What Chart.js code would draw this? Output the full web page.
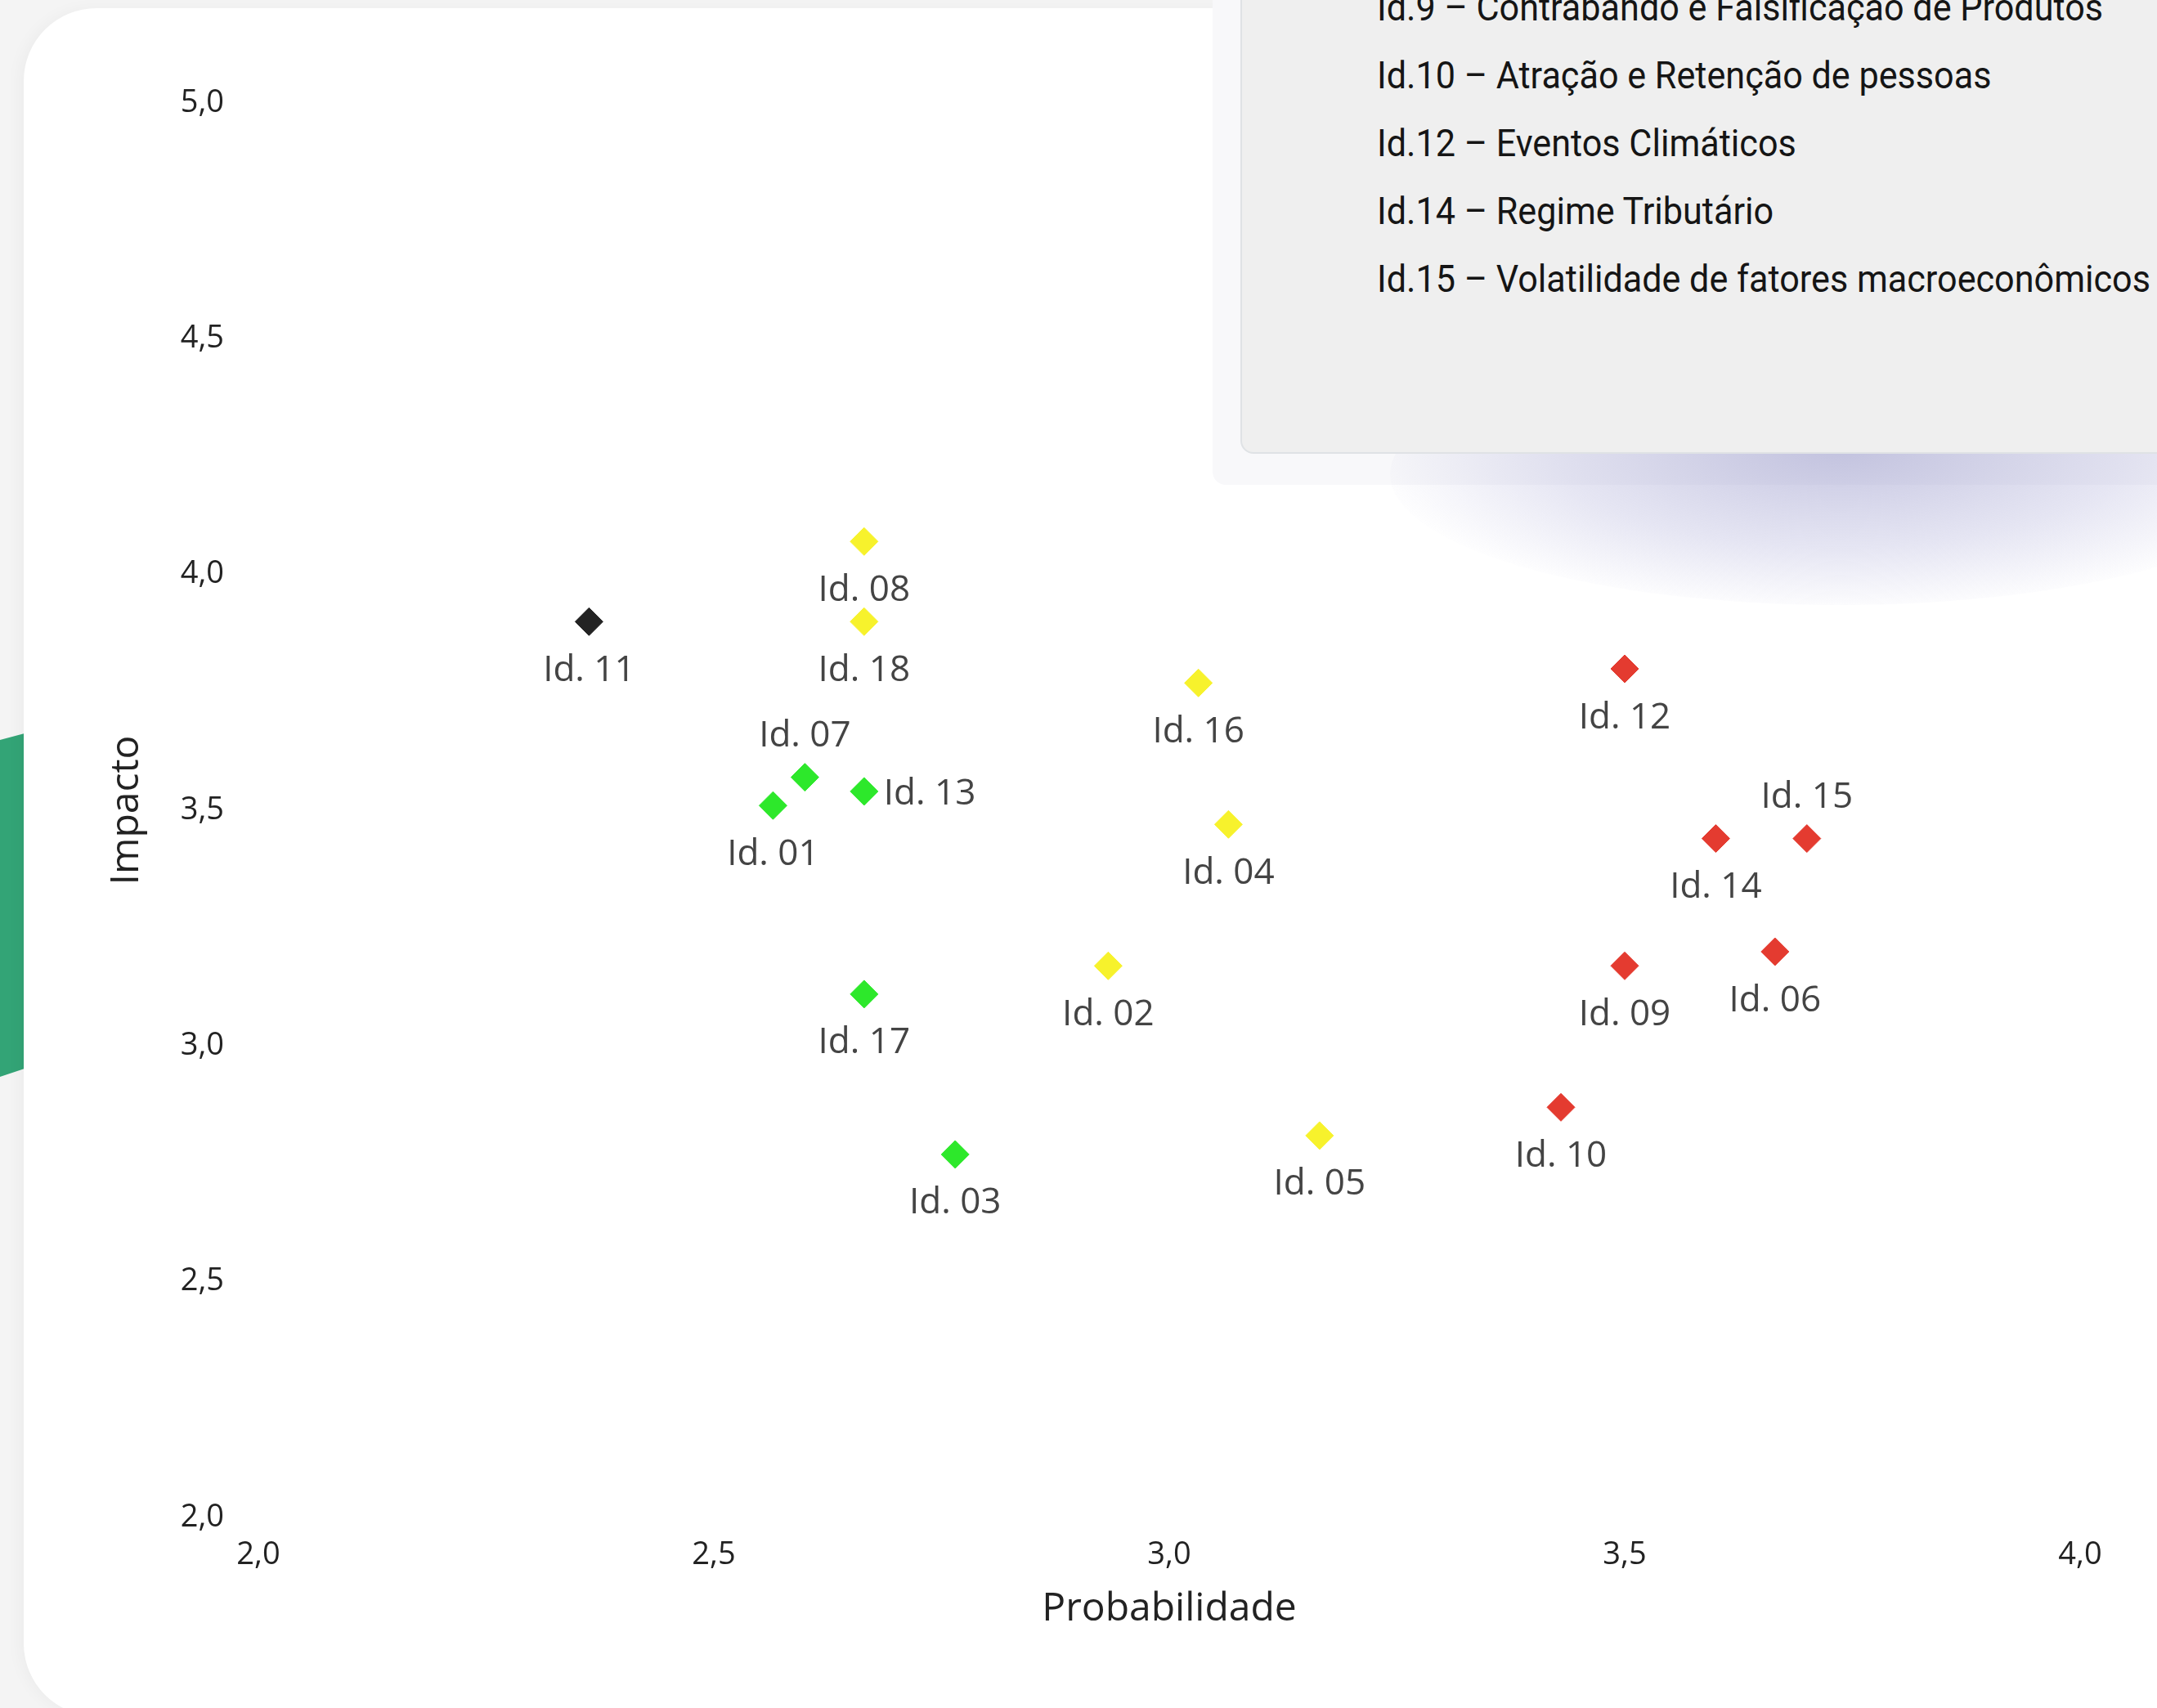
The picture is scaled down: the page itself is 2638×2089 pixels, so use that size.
<!DOCTYPE html>
<html lang="pt-BR">
<head>
<meta charset="utf-8">
<title>Matriz de riscos</title>
<script src="https://cdn.jsdelivr.net/npm/chart.js@4.4.1/dist/chart.umd.min.js"></script>
<style>
  html, body {
    margin: 0;
    padding: 0;
    width: 2638px;
    height: 2089px;
    overflow: hidden;
    background: #f4f4f4;
  }
  #faixa {
    position: absolute;
    left: 0;
    top: 897px;
    width: 30px;
    height: 420px;
    background: #33a476;
    clip-path: polygon(0 8px, 30px 0, 30px 410px, 0 420px);
  }
  #cartao {
    position: absolute;
    left: 29px;
    top: 10px;
    width: 2700px;
    height: 2089px;
    background: #ffffff;
    border-radius: 89px;
    box-shadow: -6px 0 18px rgba(0, 0, 0, 0.03);
  }
  #sombra {
    position: absolute;
    left: 1700px;
    top: 420px;
    width: 1100px;
    height: 320px;
    border-radius: 50%;
    background: radial-gradient(ellipse at 50% 40%, rgba(150, 150, 200, 0.55) 0%, rgba(170, 170, 215, 0.3) 45%, rgba(200, 200, 230, 0) 75%);
  }
  #fundoLegenda {
    position: absolute;
    left: 1483px;
    top: -20px;
    width: 1300px;
    height: 613px;
    background: #f8f8fa;
    border-bottom-left-radius: 16px;
  }
  #legenda {
    position: absolute;
    left: 1517px;
    top: -300px;
    width: 1300px;
    height: 855px;
    background: #efefef;
    border: 2px solid #dfe2e5;
    border-bottom-left-radius: 16px;
    box-sizing: border-box;
  }
  .linha {
    position: absolute;
    left: 165px;
    height: 83px;
    line-height: 83px;
    font-family: Roboto, sans-serif;
    font-size: 47px;
    color: #151515;
    white-space: nowrap;
    transform-origin: 0 50%;
  }
  #grafico {
    position: absolute;
    left: 0;
    top: 0;
  }
</style>
</head>
<body>
<div id="faixa"></div>
<div id="cartao"></div>
<canvas id="grafico" width="2638" height="2089"></canvas>
<div id="fundoLegenda"></div>
<div id="sombra"></div>
<div id="legenda"></div>

<script>
// riscos: identificador, probabilidade (x), impacto (y) e faixa de cor
const ids = [
    "Id. 01", "Id. 02", "Id. 03", "Id. 04", "Id. 05", "Id. 06",
    "Id. 07", "Id. 08", "Id. 09", "Id. 10", "Id. 11", "Id. 12",
    "Id. 13", "Id. 14", "Id. 15", "Id. 16", "Id. 17", "Id. 18"
];

const probabilidade = [
    2.565, 2.933, 2.765, 3.065, 3.165, 3.665,
    2.60, 2.665, 3.50, 3.43, 2.363, 3.50,
    2.665, 3.60, 3.70, 3.032, 2.665, 2.665
];

const impacto = [
    3.51, 3.17, 2.77, 3.47, 2.81, 3.20,
    3.57, 4.07, 3.17, 2.87, 3.90, 3.80,
    3.54, 3.44, 3.44, 3.77, 3.11, 3.90
];

const faixa = [
    "verde", "amarelo", "verde", "amarelo", "amarelo", "vermelho",
    "verde", "amarelo", "vermelho", "vermelho", "preto", "vermelho",
    "verde", "vermelho", "vermelho", "amarelo", "verde", "amarelo"
];

const ticksProbabilidade = [2.0, 2.5, 3.0, 3.5, 4.0];
const ticksImpacto = [2.0, 2.5, 3.0, 3.5, 4.0, 4.5, 5.0];

const itensLegenda = [
    "Id.9 – Contrabando e Falsificação de Produtos",
    "Id.10 – Atração e Retenção de pessoas",
    "Id.12 – Eventos Climáticos",
    "Id.14 – Regime Tributário",
    "Id.15 – Volatilidade de fatores macroeconômicos"
];

// estilo
const cores = {
    verde: "#2de82b",
    amarelo: "#f7f22c",
    vermelho: "#e43b30",
    preto: "#232323"
};

// onde fica o rótulo de cada ponto (padrão: abaixo)
const posicaoRotulo = {
    "Id. 07": "acima",
    "Id. 15": "acima",
    "Id. 13": "direita"
};

// legenda em html
let legenda =
    document.getElementById(
        "legenda"
    );

itensLegenda.forEach((texto, i) => {

    let div =
        document.createElement("div");

    div.className = "linha";
    div.textContent = texto;
    div.style.top = (300 - 2 + 8 - 41.5 + i * 83) + "px";

    legenda.appendChild(div);
});

// fonte condensada: aperta o texto para a largura do original
let linhas =
    legenda.querySelectorAll(".linha");

let maior =
    linhas[linhas.length - 1].getBoundingClientRect().width;

let escala = 946 / maior;

linhas.forEach(l => {
    l.style.transform = "scaleX(" + escala + ")";
});

function virgula(v)
{
    return v.toFixed(1).replace(".", ",");
}

const rotulos = {
    id: "rotulos",

    afterDatasetsDraw(chart)
    {
        let ctx = chart.ctx;
        let meta = chart.getDatasetMeta(0);

        ctx.save();
        ctx.font = '44px "Open Sans"';
        ctx.fillStyle = "#444444";

        meta.data.forEach((ponto, i) => {

            let pos = posicaoRotulo[ids[i]] || "abaixo";

            if (pos === "direita") {
                ctx.textAlign = "left";
                ctx.textBaseline = "middle";
                ctx.fillText(ids[i], ponto.x + 24, ponto.y + 4);
            } else if (pos === "acima") {
                ctx.textAlign = "center";
                ctx.textBaseline = "middle";
                ctx.fillText(ids[i], ponto.x, ponto.y - 50);
            } else {
                ctx.textAlign = "center";
                ctx.textBaseline = "middle";
                ctx.fillText(ids[i], ponto.x, ponto.y + 60);
            }
        });

        ctx.restore();
    }
};

let pontos = [];

ids.forEach((id, i) => {
    pontos.push({
        x: probabilidade[i],
        y: impacto[i]
    });
});

new Chart(
    document.getElementById(
        "grafico"
    ),
    {
        type: "scatter",

        data: {
            datasets: [{
                label: "Riscos",
                data: pontos,
                pointStyle: "rectRot",
                pointRadius: 17,
                pointBorderWidth: 1,
                pointBackgroundColor: faixa.map(f => cores[f]),
                pointBorderColor: faixa.map(f => cores[f])
            }]
        },

        plugins: [rotulos],

        options: {
            responsive: false,
            animation: false,
            devicePixelRatio: 1,

            layout: {
                padding: {
                    top: 126,
                    right: 94,
                    bottom: 40,
                    left: 0
                }
            },

            plugins: {
                legend: { display: false },
                tooltip: { enabled: false }
            },

            events: [],

            scales: {
                x: {
                    type: "linear",
                    min: 2,
                    max: 4,
                    afterFit(scale) {
                        scale.height = 193;
                    },
                    afterBuildTicks(scale) {
                        scale.ticks = ticksProbabilidade.map(v => ({ value: v }));
                    },
                    grid: { display: false, drawTicks: false },
                    border: { display: false },
                    ticks: {
                        padding: 23,
                        color: "#222222",
                        font: { family: "Open Sans", size: 38 },
                        callback: v => virgula(v)
                    },
                    title: {
                        display: true,
                        text: "Probabilidade",
                        color: "#222222",
                        font: { family: "Open Sans", size: 48 },
                        padding: { top: 0, bottom: 52 }
                    }
                },

                y: {
                    type: "linear",
                    min: 2,
                    max: 5,
                    afterFit(scale) {
                        scale.width = 316;
                    },
                    afterBuildTicks(scale) {
                        scale.ticks = ticksImpacto.map(v => ({ value: v }));
                    },
                    grid: { display: false, drawTicks: false },
                    border: { display: false },
                    ticks: {
                        padding: 42,
                        color: "#222222",
                        font: { family: "Open Sans", size: 38 },
                        callback: v => virgula(v)
                    },
                    title: {
                        display: true,
                        text: "Impacto",
                        color: "#222222",
                        font: { family: "Open Sans", size: 48 },
                        padding: { top: 127, bottom: 0 }
                    }
                }
            }
        }
    }
);
</script>
</body>
</html>
